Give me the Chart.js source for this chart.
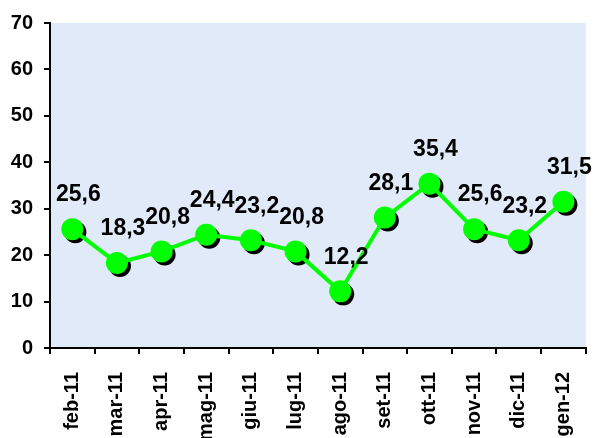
<!DOCTYPE html>
<html>
<head>
<meta charset="utf-8">
<script src="https://cdn.jsdelivr.net/npm/chart.js@4/dist/chart.umd.min.js"></script>
<style>
  html, body { margin: 0; padding: 0; background: #fff; overflow: hidden; }
  #wrap { width: 606px; height: 438px; }
</style>
</head>
<body>
<div id="wrap"><canvas id="grafico"></canvas></div>
<script>
// Valori mensili
var mesi = ["feb-11", "mar-11", "apr-11", "mag-11", "giu-11", "lug-11", "ago-11", "set-11", "ott-11", "nov-11", "dic-11", "gen-12"];
var valori = [25.6, 18.3, 20.8, 24.4, 23.2, 20.8, 12.2, 28.1, 35.4, 25.6, 23.2, 31.5];
var tickY = [0, 10, 20, 30, 40, 50, 60, 70];

var fontBold = "'Liberation Sans', Arial, sans-serif";

// sfondo azzurro dell'area del grafico
var sfondo = {
  id: 'sfondo',
  beforeDraw(chart) {
    var a = chart.chartArea, ctx = chart.ctx;
    ctx.save();
    ctx.fillStyle = '#e0eaf8';
    ctx.fillRect(a.left, a.top, a.right - a.left, a.bottom - a.top);
    ctx.restore();
  }
};

// ombra nera dietro i punti
var ombra = {
  id: 'ombra',
  beforeDatasetsDraw(chart) {
    var ctx = chart.ctx;
    ctx.save();
    ctx.fillStyle = '#000';
    chart.getDatasetMeta(0).data.forEach(p => {
      ctx.beginPath();
      ctx.arc(p.x + 3, p.y + 3, 11, 0, Math.PI * 2);
      ctx.fill();
    });
    ctx.restore();
  }
};

// etichette dei valori
var etichette = {
  id: 'etichette',
  afterDatasetsDraw(chart) {
    var ctx = chart.ctx;
    ctx.save();
    ctx.fillStyle = '#000';
    ctx.font = 'bold 23px ' + fontBold;
    ctx.textAlign = 'center';
    ctx.textBaseline = 'middle';
    chart.getDatasetMeta(0).data.forEach((p, i) => {
      ctx.fillText(valori[i].toFixed(1).replace('.', ','), p.x + 6, p.y - 34);
    });
    ctx.restore();
  }
};

new Chart(document.getElementById("grafico"), {
  type: 'line',
  data: {
    labels: mesi,
    datasets: [{
      data: valori,
      borderColor: '#00ff00',
      borderWidth: 4,
      backgroundColor: '#00ff00',
      pointRadius: 11,
      pointBorderWidth: 0,
      pointBackgroundColor: '#00ff00',
      tension: 0
    }]
  },
  options: {
    responsive: true,
    maintainAspectRatio: false,
    animation: false,
    layout: { padding: { top: 16, right: 14, left: 0, bottom: 0 } },
    plugins: { legend: { display: false }, tooltip: { enabled: false } },
    scales: {
      x: {
        offset: true,
        afterFit(s) { s.height = 90; },
        grid: { offset: true, drawOnChartArea: false, drawTicks: true, tickLength: 6, color: '#000', lineWidth: 2 },
        border: { display: true, color: '#000', width: 2 },
        ticks: {
          color: '#000',
          minRotation: 90,
          maxRotation: 90,
          padding: 18,
          autoSkip: false,
          font: { family: fontBold, size: 20, weight: 'bold' }
        }
      },
      y: {
        min: 0,
        max: 70,
        afterFit(s) { s.width = 50; },
        afterBuildTicks(s) { s.ticks = tickY.map(v => ({ value: v })); },
        grid: { drawOnChartArea: false, drawTicks: true, tickLength: 6, color: '#000', lineWidth: 2 },
        border: { display: true, color: '#000', width: 2 },
        ticks: {
          color: '#000',
          padding: 11,
          font: { family: fontBold, size: 20, weight: 'bold' }
        }
      }
    }
  },
  plugins: [sfondo, ombra, etichette]
});
</script>
</body>
</html>
